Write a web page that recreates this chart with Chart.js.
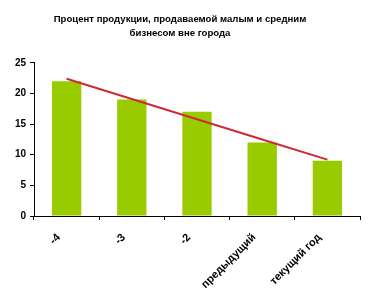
<!DOCTYPE html>
<html>
<head>
<meta charset="utf-8">
<script src="https://cdn.jsdelivr.net/npm/chart.js@4"></script>
<style>
  html, body { margin: 0; padding: 0; background: #fff; }
  #wrap { width: 371px; height: 303px; }
</style>
</head>
<body>
<div id="wrap"><canvas id="myChart" width="371" height="303"></canvas></div>
<script>
const labels = ['-4', '-3', '-2', 'предыдущий', 'текущий год'];
const shares = [22, 19, 17, 12, 9];
const trend = [22.4, 19.1, 15.8, 12.5, 9.2];
const yTicks = [0, 5, 10, 15, 20, 25];

const fontFamily = 'Arial, "Liberation Sans", sans-serif';

document.addEventListener("DOMContentLoaded", function() {
    const ctx = document.getElementById('myChart').getContext('2d');
    const myChart = new Chart(ctx, {
        type: 'bar',
        data: {
            labels: labels,
            datasets: [{
                type: 'line',
                label: 'Тренд',
                data: trend,
                borderColor: '#cc2a36',
                borderWidth: 2,
                pointRadius: 0,
                fill: false,
                tension: 0
            }, {
                label: 'Процент',
                data: shares,
                backgroundColor: '#99cc00',
                categoryPercentage: 1,
                barPercentage: 0.45
            }]
        },
        options: {
            responsive: false,
            animation: false,
            layout: { padding: { left: 0, right: 11, top: 0, bottom: 0 } },
            scales: {
                x: {
                    offset: true,
                    grid: { display: true, drawOnChartArea: false, drawTicks: true, tickLength: 4, color: '#000', offset: true },
                    border: { color: '#000', width: 1 },
                    ticks: {
                        color: '#000',
                        font: { family: fontFamily, size: 11, weight: 'bold' },
                        minRotation: 45,
                        maxRotation: 45,
                        padding: 11,
                        labelOffset: -8
                    },
                    afterFit: function(scale) { scale.height = 87; }
                },
                y: {
                    min: 0,
                    max: 25,
                    afterBuildTicks: function(scale) {
                        scale.ticks = yTicks.map(v => ({ value: v }));
                    },
                    grid: { display: true, drawOnChartArea: false, drawTicks: true, tickLength: 4, color: '#000' },
                    border: { color: '#000', width: 1 },
                    ticks: {
                        color: '#000',
                        font: { family: fontFamily, size: 10, weight: 'bold' },
                        padding: 4
                    },
                    afterFit: function(scale) { scale.width = 34; }
                }
            },
            plugins: {
                legend: { display: false },
                tooltip: { enabled: false },
                title: {
                    display: true,
                    text: ['Процент продукции, продаваемой малым и средним', 'бизнесом вне города'],
                    color: '#000',
                    font: { family: fontFamily, size: 9.6, weight: 'bold', lineHeight: 1.45 },
                    padding: { top: 12, bottom: 23 }
                }
            }
        }
    });
});
</script>
</body>
</html>
